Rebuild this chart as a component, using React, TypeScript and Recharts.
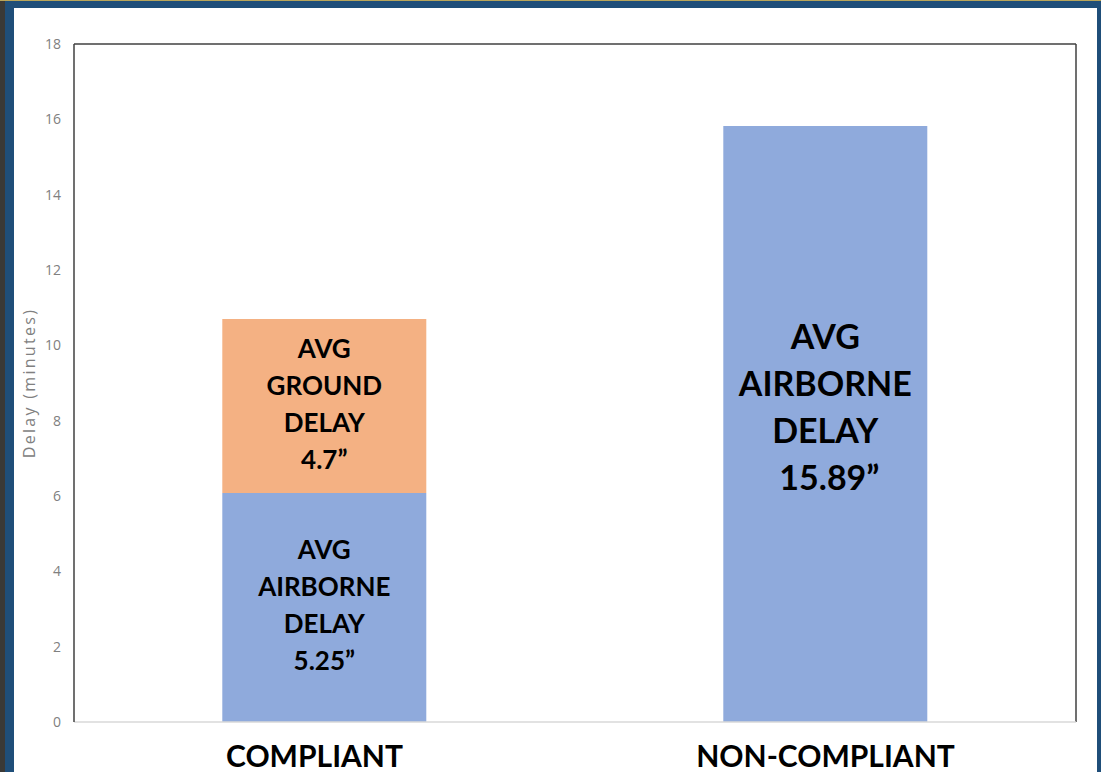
import React from 'react';
import { BarChart, Bar, XAxis, YAxis, LabelList, CartesianGrid } from 'recharts';

const categories = ['COMPLIANT', 'NON-COMPLIANT'];
const airborne = [6.08, 15.82];
const ground = [4.62, 0];
const airborneLabels = [
  ['AVG', 'AIRBORNE', 'DELAY', '5.25\u201D'],
  ['AVG', 'AIRBORNE', 'DELAY', ' 15.89\u201D'],
];
const groundLabels = [['AVG', 'GROUND', 'DELAY', '4.7\u201D'], []];
const yTicks = [0, 2, 4, 6, 8, 10, 12, 14, 16, 18];

const data = categories.map((c, i) => ({ name: c, airborne: airborne[i], ground: ground[i] }));

const BLUE = '#8FAADC';
const ORANGE = '#F4B183';
const FONT = 'Lato, "Open Sans", sans-serif';

const makeLabel = (labels: string[][]) => (props: any) => {
  const vb = props.viewBox || props;
  const { x, y, width, height } = vb;
  const idx = props.index;
  const lines = labels[idx] || [];
  if (!lines.length || !height) return null;
  const big = height > 400;
  const fs = big ? 34 : 26;
  const lh = big ? 47 : 37;
  const cx = x + width / 2;
  const cy = y + height / 2 - (big ? 17 : 2);
  const start = cy - ((lines.length - 1) * lh) / 2;
  return (
    <text textAnchor="middle" fontFamily={FONT} fontWeight={700} fontSize={fs} fill="#000">
      {lines.map((l, i) => (
        <tspan key={i} x={cx} y={start + i * lh} dy="0.36em" style={{ whiteSpace: 'pre' }}>
          {l}
        </tspan>
      ))}
    </text>
  );
};

const CatTick = (props: any) => {
  const { x, y, payload } = props;
  return (
    <text x={x - (payload.index === 0 ? 10 : 0)} y={y + 45} textAnchor="middle" fontFamily={FONT} fontWeight={700} fontSize={30} fill="#000">
      {payload.value}
    </text>
  );
};

const YLabel = (props: any) => {
  const vb = props.viewBox || {};
  const cx = vb.x + 17;
  const cy = vb.y + vb.height / 2;
  return (
    <text x={cx} y={cy} transform={`rotate(-90, ${cx}, ${cy})`} textAnchor="middle" dominantBaseline="middle" fontFamily='"Open Sans", sans-serif' fontSize={16} fill="#808080" letterSpacing={2.3}>
      Delay (minutes)
    </text>
  );
};

export default function App() {
  return (
    <div style={{ position: 'fixed', left: 0, top: 0, width: 1101, height: 772, background: '#1F4E79', overflow: 'hidden' }}>
      <div style={{ position: 'absolute', left: 0, top: 0, width: 5, height: 772, background: '#3A3937' }} />
      <div style={{ position: 'absolute', left: 0, top: 0, width: 1101, height: 1, background: '#B9A55A' }} />
      <div style={{ position: 'absolute', left: 14, top: 8, width: 1083, height: 764, background: '#FFFFFF' }} />
      <div style={{ position: 'absolute', left: 0, top: 0 }}>
        <BarChart
          width={1101}
          height={772}
          data={data}
          margin={{ top: 44, right: 25, left: 14, bottom: 0 }}
          barCategoryGap="29.6%"
        >
          <CartesianGrid
            stroke="#404040"
            strokeWidth={1.5}
            horizontalCoordinatesGenerator={(p: any) => (p && p.offset ? [p.offset.top] : [])}
            verticalCoordinatesGenerator={(p: any) => (p && p.offset ? [p.offset.left + p.offset.width] : [])}
          />
          <XAxis
            dataKey="name"
            height={50}
            tickLine={false}
            tickSize={0}
            tickMargin={0}
            axisLine={{ stroke: '#D9D9D9', strokeWidth: 1.5 }}
            tick={<CatTick />}
            interval={0}
          />
          <YAxis
            domain={[0, 18]}
            ticks={yTicks}
            width={60}
            tickLine={false}
            tickSize={0}
            tickMargin={13}
            axisLine={{ stroke: '#404040', strokeWidth: 1.5 }}
            tick={{ fontFamily: '"Open Sans", sans-serif', fontSize: 14, fill: '#808080' }}
            label={<YLabel />}
          />
          <Bar dataKey="airborne" stackId="a" fill={BLUE} isAnimationActive={false}>
            <LabelList dataKey="airborne" content={makeLabel(airborneLabels)} />
          </Bar>
          <Bar dataKey="ground" stackId="a" fill={ORANGE} isAnimationActive={false}>
            <LabelList dataKey="ground" content={makeLabel(groundLabels)} />
          </Bar>
        </BarChart>
      </div>
    </div>
  );
}
